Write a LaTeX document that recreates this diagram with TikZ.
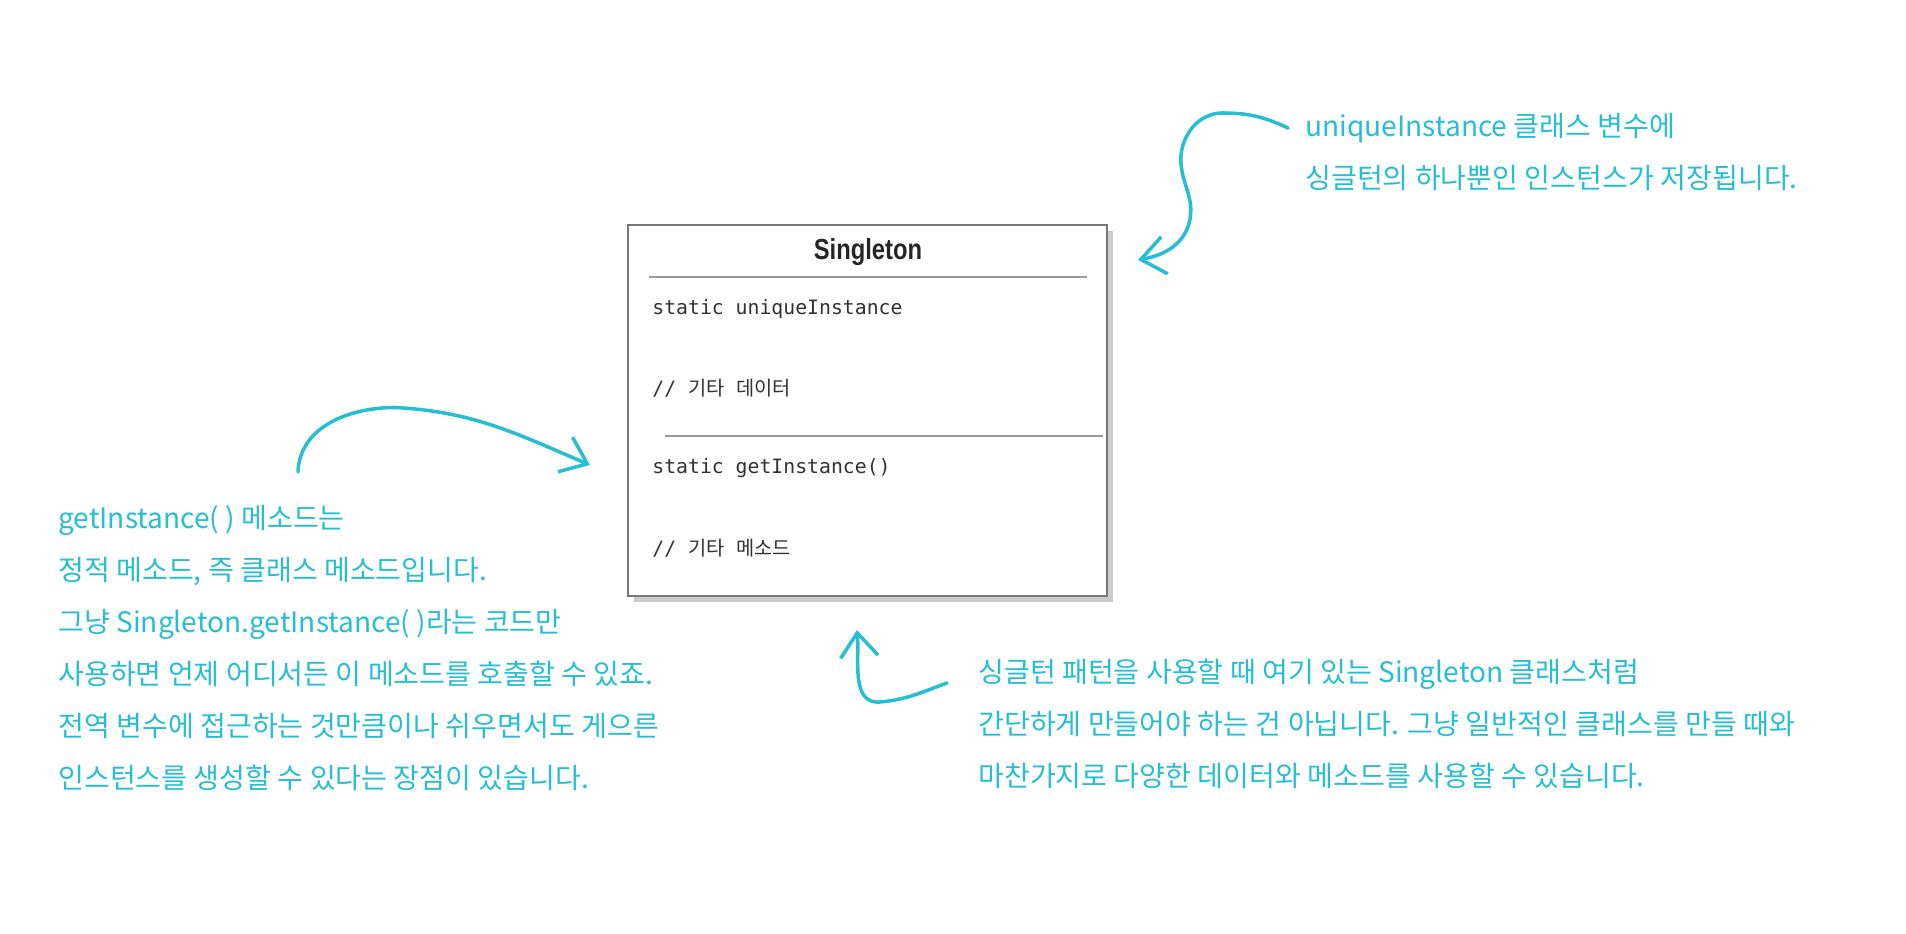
\documentclass[tikz,border=0pt]{standalone}
\usepackage{fontspec}
\setmonofont{DejaVu Sans Mono}
\newfontfamily\krfont{Noto Sans CJK KR}
\newfontfamily\titlefont[FakeStretch=0.82]{Liberation Sans}
\newcommand{\kr}[1]{{\krfont #1}}
\usetikzlibrary{arrows.meta, shadows}
\definecolor{notecyan}{RGB}{38,190,208}
\definecolor{boxline}{RGB}{120,120,120}
\definecolor{codetext}{RGB}{50,50,50}

\begin{document}
\begin{tikzpicture}[
  >={Straight Barb[length=0.48cm, width=0.75cm]},
  classbox/.style={draw=boxline, line width=1pt, fill=white,
    minimum width=9.58cm, minimum height=7.42cm,
    drop shadow={shadow xshift=0.11cm, shadow yshift=-0.13cm, fill=gray!40, opacity=1}},
  ctitle/.style={font=\titlefont\bfseries\fontsize{16.5}{20}\selectfont, text=black!85},
  member/.style={font=\ttfamily\fontsize{11.26}{14}\selectfont, text=codetext, anchor=west, inner sep=0pt},
  sepline/.style={black!40, line width=1pt},
  note/.style={font=\krfont\fontsize{16}{29.6}\selectfont, text=notecyan, align=left,
    anchor=north west, inner sep=0pt},
  hand/.style={->, notecyan, line width=2pt, line cap=round},
]
\useasboundingbox (0,0) rectangle (38.12,18.68);

% ---------- CLASS BOX ----------
\node[classbox] (cls) at (17.35,10.47) {};
\node[ctitle] (title) at (17.36,13.64) {Singleton};
\draw[sepline] (12.98,13.14) -- (21.74,13.14);
\node[member] (attr) at (13.04,12.50) {static uniqueInstance};
\node[member] (attrc) at (13.04,10.92) {// \kr{기타} \kr{데이터}};
\draw[sepline] (13.30,9.96) -- (22.06,9.96);
\node[member] (meth) at (13.04,9.32) {static getInstance()};
\node[member] (methc) at (13.04,7.72) {// \kr{기타} \kr{메소드}};

% ---------- NOTES ----------
\node[note] (noteInst) at (26.10,16.42)
  {uniqueInstance 클래스 변수에\\싱글턴의 하나뿐인 인스턴스가 저장됩니다.};
\node[note] (noteGet) at (1.16,8.58)
  {getInstance( ) 메소드는\\정적 메소드, 즉 클래스 메소드입니다.\\그냥 Singleton.getInstance( )라는 코드만\\사용하면 언제 어디서든 이 메소드를 호출할 수 있죠.\\전역 변수에 접근하는 것만큼이나 쉬우면서도 게으른\\인스턴스를 생성할 수 있다는 장점이 있습니다.};
\node[note] (noteUse) at (19.56,5.50)
  {싱글턴 패턴을 사용할 때 여기 있는 Singleton 클래스처럼\\간단하게 만들어야 하는 건 아닙니다. 그냥 일반적인 클래스를 만들 때와\\마찬가지로 다양한 데이터와 메소드를 사용할 수 있습니다.};

% ---------- HAND ARROWS ----------
\coordinate (instFrom) at (25.76,16.12);
\coordinate (instTo) at (22.76,13.48);
\coordinate (getFrom) at (5.96,9.24);
\coordinate (getTo) at (11.80,9.38);
\coordinate (useFrom) at (18.94,5.02);
\coordinate (useTo) at (17.14,6.08);
\draw[hand] (instFrom) to[out=155,in=0] (24.45,16.42) to[out=180,in=95] (23.62,15.40)
  to[out=-85,in=80] (23.80,14.30) to[out=-100,in=10] (instTo);
\draw[hand] (getFrom) to[out=88,in=180] (7.90,10.53) to[out=-3,in=157] (getTo);
\draw[hand] (useFrom) to[out=200,in=5] (17.60,4.64) to[out=185,in=-85] (useTo);

\end{tikzpicture}
\end{document}
